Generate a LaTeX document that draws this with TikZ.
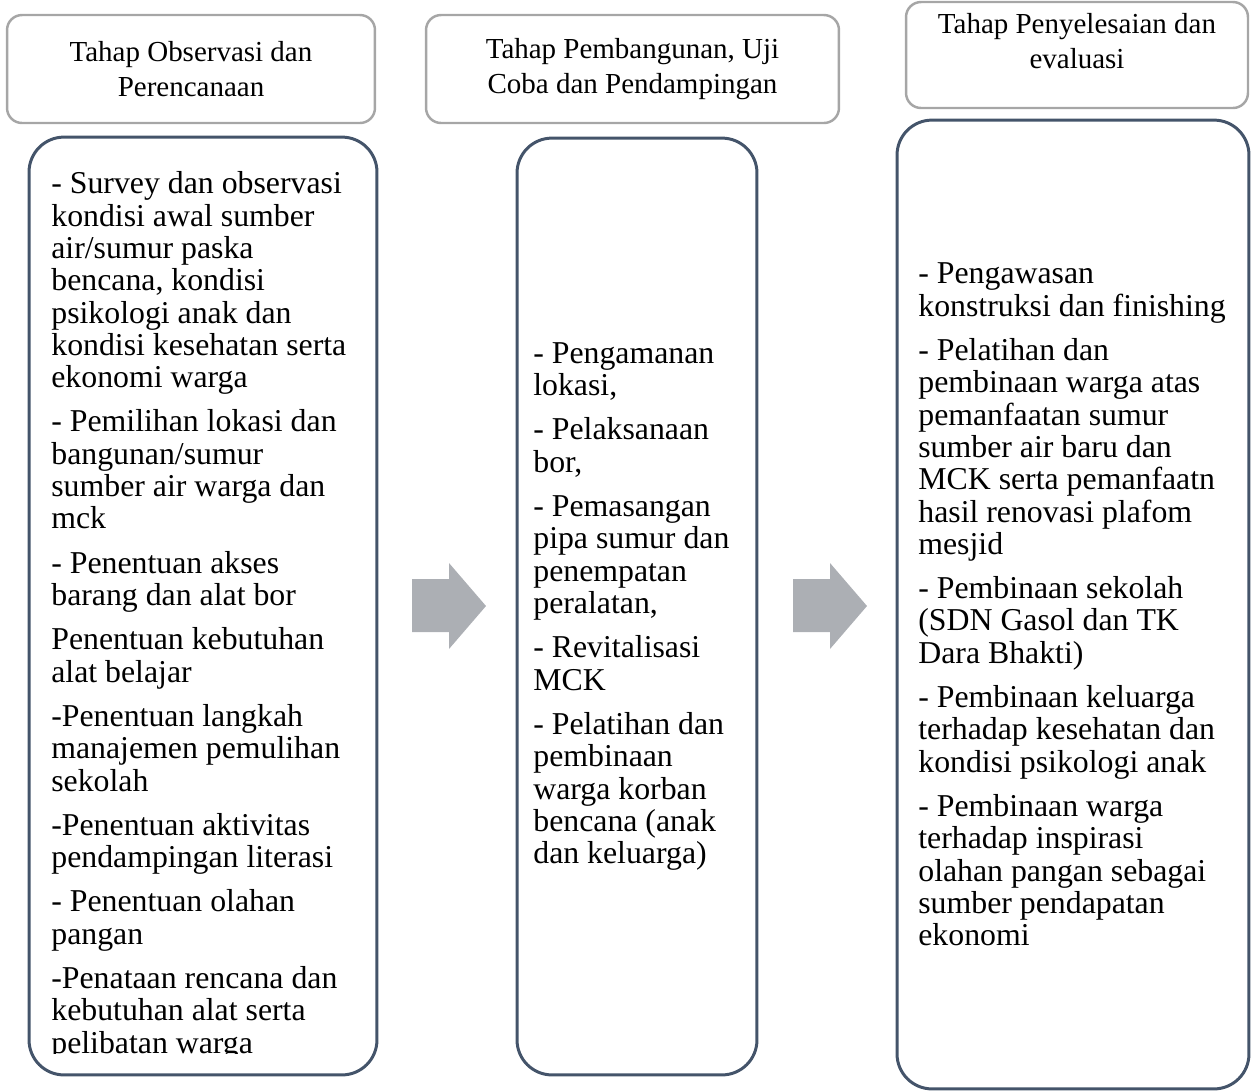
\documentclass[tikz,border=0pt]{standalone}
\usepackage{fontspec}
\setmainfont{Liberation Serif}
\usetikzlibrary{positioning}
\definecolor{headgray}{RGB}{166,166,166}
\definecolor{boxblue}{RGB}{68,84,106}
\definecolor{arrgray}{RGB}{172,175,180}

\begin{document}
\begin{tikzpicture}[x=0.02cm,y=-0.02cm,
    headbox/.style={draw=headgray,line width=1.4pt,rounded corners=0.3cm,inner sep=0pt},
    headtxt/.style={align=center,inner sep=0pt,font=\fontsize{16.5pt}{19.9pt}\selectfont},
    bodybox/.style={draw=boxblue,line width=1.7pt,rounded corners=0.7cm,inner sep=0pt},
    bodytxt/.style={align=left,inner sep=0pt,font=\fontsize{18.1pt}{18.4pt}\selectfont},
    blockarr/.style={fill=arrgray,draw=none}]
  \useasboundingbox (0,0) rectangle (1254,1090);

  % stage headers
  \node[headbox,headtxt,minimum width=7.36cm,minimum height=2.16cm] (head1) at (191,69)
    {Tahap Observasi dan\\Perencanaan};
  \node[headbox,headtxt,minimum width=8.26cm,minimum height=2.16cm] (head2) at (632.5,69)
    {Tahap Pembangunan, Uji\\Coba dan Pendampingan};
  \node[headbox,minimum width=6.84cm,minimum height=2.12cm] (head3) at (1077,55) {};
  \node[headtxt] (head3txt) at ([yshift=0.28cm]head3.center) {Tahap Penyelesaian dan\\evaluasi};

  % stage bodies
  \node[bodybox,minimum width=6.96cm,minimum height=18.76cm] (body1) at (203,606) {};
  \node[bodybox,minimum width=4.8cm,minimum height=18.74cm] (body2) at (637,606.5) {};
  \node[bodybox,minimum width=7.04cm,minimum height=19.38cm] (body3) at (1073,604.5) {};

  % first list runs past the box, so cut it off
  \begin{scope}
    \clip (29,137) rectangle (377,1053);
    \node[bodytxt,anchor=north west] (list1) at (51,171.3) {%
      - Survey dan observasi\\ kondisi awal sumber\\ air/sumur paska\\ bencana, kondisi\\
      psikologi anak dan\\ kondisi kesehatan serta\\ ekonomi warga\\[6.8pt]
      - Pemilihan lokasi dan\\ bangunan/sumur\\ sumber air warga dan\\ mck\\[6.8pt]
      - Penentuan akses\\ barang dan alat bor\\[6.8pt]
      Penentuan kebutuhan\\ alat belajar\\[6.8pt]
      -Penentuan langkah\\ manajemen pemulihan\\ sekolah\\[6.8pt]
      -Penentuan aktivitas\\ pendampingan literasi\\[6.8pt]
      - Penentuan olahan\\ pangan\\[6.8pt]
      -Penataan rencana dan\\ kebutuhan alat serta\\ pelibatan warga};
  \end{scope}

  \node[bodytxt,anchor=west] (list2) at (533,606.5) {%
    - Pengamanan\\ lokasi,\\[6.8pt]
    - Pelaksanaan\\ bor,\\[6.8pt]
    - Pemasangan\\ pipa sumur dan\\ penempatan\\ peralatan,\\[6.8pt]
    - Revitalisasi\\ MCK\\[6.8pt]
    - Pelatihan dan\\ pembinaan\\ warga korban\\ bencana (anak\\ dan keluarga)};

  \node[bodytxt,anchor=west] (list3) at (918,604.5) {%
    - Pengawasan\\ konstruksi dan finishing\\[6.8pt]
    - Pelatihan dan\\ pembinaan warga atas\\ pemanfaatan sumur\\ sumber air baru dan\\
    MCK serta pemanfaatn\\ hasil renovasi plafom\\ mesjid\\[6.8pt]
    - Pembinaan sekolah\\ (SDN Gasol dan TK\\ Dara Bhakti)\\[6.8pt]
    - Pembinaan keluarga\\ terhadap kesehatan dan\\ kondisi psikologi anak\\[6.8pt]
    - Pembinaan warga\\ terhadap inspirasi\\ olahan pangan sebagai\\ sumber pendapatan\\ ekonomi};

  % block arrows between the stages
  \fill[blockarr] (412,579) -- (449,579) -- (449,563) -- (486,606)
    -- (449,649) -- (449,632) -- (412,632) -- cycle;
  \fill[blockarr] (793,579) -- (830,579) -- (830,563) -- (867,606)
    -- (830,649) -- (830,632) -- (793,632) -- cycle;
\end{tikzpicture}
\end{document}
